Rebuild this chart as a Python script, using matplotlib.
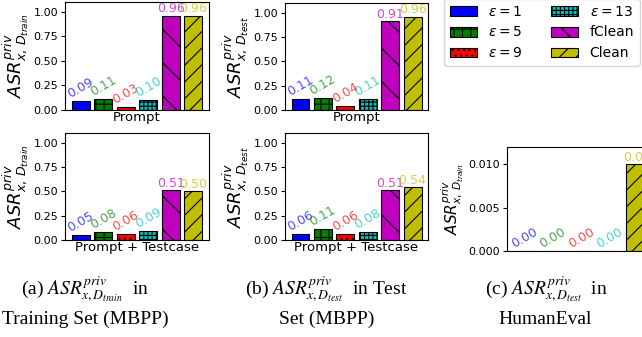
import matplotlib
matplotlib.use("Agg")
import matplotlib.pyplot as plt
import numpy as np

# bar groups (legend order)
names = [r'$\epsilon=1$', r'$\epsilon=5$', r'$\epsilon=9$', r'$\epsilon=13$', 'fClean', 'Clean']
colors = ['b', 'g', 'r', 'c', 'm', 'y']
hatches = ['', '++', '...', '++++', '\\', '//']

# MBPP results
train_prompt = [0.09, 0.11, 0.03, 0.10, 0.96, 0.96]
test_prompt = [0.11, 0.12, 0.04, 0.11, 0.91, 0.96]
train_prompt_tc = [0.05, 0.08, 0.06, 0.09, 0.51, 0.50]
test_prompt_tc = [0.06, 0.11, 0.06, 0.08, 0.51, 0.54]

# HumanEval (eps=1,5,9,13, Clean)
he_idx = [0, 1, 2, 3, 5]
he_vals = [0.00, 0.00, 0.00, 0.00, 0.01]

plt.rcParams['hatch.linewidth'] = 0.8

W, H = 642, 337
fig = plt.figure(figsize=(W / 100, H / 100), dpi=100)


def px_axes(left, top, right, bottom):
    return fig.add_axes([left / W, 1 - bottom / H, (right - left) / W, (bottom - top) / H])


def draw(ax, vals, idx, ylab, xlab, ylim, fs_tick=8, fs_lab=13, fs_val=9, yticks=None):
    bars = []
    for i, (k, v) in enumerate(zip(idx, vals)):
        b = ax.bar(i, v, width=0.8, color=colors[k], hatch=hatches[k],
                   edgecolor='black', linewidth=0.8, label=names[k])
        bars.append(b)
        rot = 30 if v < 0.5 * max(vals) else 0
        ax.text(i, v + ylim * 0.006, f'{v:.2f}', color=colors[k], alpha=0.7,
                ha='center', va='bottom', rotation=rot, fontsize=fs_val)
    ax.set_ylim(0, ylim)
    ax.set_xticks([])
    if yticks is not None:
        ax.set_yticks(yticks)
    ax.tick_params(axis='y', labelsize=fs_tick, length=3, pad=2)
    ax.set_ylabel(ylab, fontsize=fs_lab, labelpad=2)
    if xlab:
        ax.set_xlabel(xlab, fontsize=9.5, labelpad=1)
    return bars


lab_train = r'$ASR^{priv}_{x,\,D_{train}}$'
lab_test = r'$ASR^{priv}_{x,\,D_{test}}$'
ticks = [0, 0.25, 0.5, 0.75, 1.0]

ax1 = px_axes(65, 2, 209, 110)
bars = draw(ax1, train_prompt, range(6), lab_train, 'Prompt', 1.1, yticks=ticks)
ax2 = px_axes(285, 3, 428, 110)
draw(ax2, test_prompt, range(6), lab_test, 'Prompt', 1.1, yticks=ticks)
ax3 = px_axes(65, 133, 209, 240)
draw(ax3, train_prompt_tc, range(6), lab_train, 'Prompt + Testcase', 1.1, yticks=ticks)
ax4 = px_axes(285, 133, 428, 240)
draw(ax4, test_prompt_tc, range(6), lab_test, 'Prompt + Testcase', 1.1, yticks=ticks)
ax5 = px_axes(507, 147, 655, 251)
draw(ax5, he_vals, he_idx, lab_train, None, 0.012, fs_tick=8, fs_lab=11, fs_val=9,
     yticks=[0, 0.005, 0.010])
ax5.yaxis.set_major_formatter(matplotlib.ticker.FormatStrFormatter('%.3f'))

for a in [ax1, ax2, ax3, ax4]:
    a.yaxis.set_major_formatter(matplotlib.ticker.FormatStrFormatter('%.2f'))

handles = [b[0] for b in bars]
fig.legend(handles, names, ncol=2, fontsize=10, loc='lower left',
           bbox_to_anchor=(444 / W, 1 - 66 / H), borderaxespad=0)

cap = dict(fontsize=14, family='Liberation Serif', math_fontfamily='stix',
           ha='center', va='baseline')
fig.text(85 / W, 1 - 294 / H, r'(a) $ASR^{priv}_{x,D_{train}}$  in', **cap)
fig.text(85 / W, 1 - 324 / H, 'Training Set (MBPP)', **cap)
fig.text(326 / W, 1 - 294 / H, r'(b) $ASR^{priv}_{x,D_{test}}$  in Test', **cap)
fig.text(327 / W, 1 - 324 / H, 'Set (MBPP)', **cap)
fig.text(546 / W, 1 - 294 / H, r'(c) $ASR^{priv}_{x,D_{test}}$  in', **cap)
fig.text(545 / W, 1 - 324 / H, 'HumanEval', **cap)

fig.savefig('out.png', dpi=100)
